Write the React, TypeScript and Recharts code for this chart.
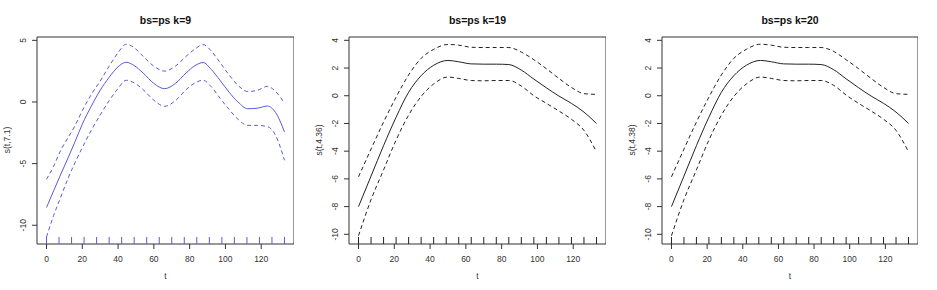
import { ComposedChart, Line, Scatter, XAxis, YAxis, ReferenceArea } from 'recharts';

// t grid used for the smooth curves
const T1 = [0, 4, 8, 12, 16, 20, 25, 30, 35, 40, 44.5, 49, 54, 60, 66, 72, 78, 83, 87.5, 92, 97, 102, 107, 112.5, 118, 123.5, 128, 133];
const FIT1 = [-8.55, -7.2, -5.85, -4.55, -3.2, -1.8, -0.35, 0.95, 2.0, 2.85, 3.22, 2.95, 2.35, 1.5, 1.08, 1.5, 2.35, 2.95, 3.2, 2.65, 1.75, 0.8, 0.0, -0.55, -0.5, -0.33, -0.85, -2.43];
const UPPER1 = [-6.27, -5.2, -3.9, -2.9, -1.9, -0.7, 0.6, 1.7, 2.9, 4.0, 4.68, 4.4, 3.7, 2.9, 2.5, 2.9, 3.7, 4.3, 4.65, 4.15, 3.2, 2.2, 1.35, 0.85, 0.95, 1.27, 0.85, -0.1];
const LOWER1 = [-10.95, -9.2, -7.7, -6.2, -4.9, -3.7, -2.3, -1.05, 0.1, 1.1, 1.76, 1.55, 1.0, 0.14, -0.35, 0.1, 1.0, 1.55, 1.76, 1.25, 0.3, -0.6, -1.4, -1.9, -1.9, -2.0, -2.7, -4.73];

const T2 = [0, 7, 14, 21, 28, 35, 42, 50, 56, 63, 70, 77, 84, 91, 98, 105, 112, 119, 126, 133];
const FIT2 = [-8.0, -5.8, -3.6, -1.55, 0.25, 1.45, 2.2, 2.55, 2.45, 2.3, 2.28, 2.28, 2.25, 1.85, 1.2, 0.57, -0.02, -0.55, -1.18, -2.0];
const UPPER2 = [-5.85, -3.85, -1.9, -0.1, 1.5, 2.7, 3.35, 3.7, 3.65, 3.5, 3.48, 3.48, 3.48, 3.15, 2.6, 1.95, 1.25, 0.6, 0.15, 0.1];
const LOWER2 = [-10.1, -7.5, -5.35, -3.2, -1.4, -0.05, 0.85, 1.35, 1.25, 1.1, 1.08, 1.1, 1.1, 0.7, 0.0, -0.55, -1.1, -1.7, -2.5, -4.05];

const FIT3 = [-8.0, -5.8, -3.6, -1.55, 0.25, 1.45, 2.2, 2.55, 2.45, 2.3, 2.28, 2.28, 2.25, 1.88, 1.22, 0.58, -0.02, -0.55, -1.18, -2.0];
const UPPER3 = [-5.85, -3.85, -1.9, -0.1, 1.5, 2.7, 3.35, 3.72, 3.65, 3.5, 3.48, 3.48, 3.48, 3.2, 2.6, 1.95, 1.25, 0.6, 0.15, 0.1];
const LOWER3 = [-10.1, -7.5, -5.35, -3.2, -1.4, -0.05, 0.85, 1.35, 1.25, 1.1, 1.08, 1.1, 1.1, 0.75, 0.05, -0.55, -1.1, -1.7, -2.5, -4.05];

// rug of observed t values
const RUG_T = [0, 7, 14, 21, 28, 35, 42, 49, 56, 63, 70, 77, 84, 91, 98, 105, 112, 119, 126, 133];

const X_TICKS = [0, 20, 40, 60, 80, 100, 120];
const Y_TICKS1 = [-10, -5, 0, 5];
const Y_TICKS2 = [-10, -8, -6, -4, -2, 0, 2, 4];

const TITLES = ['bs=ps k=9', 'bs=ps k=19', 'bs=ps k=20'];
const Y_LABELS = ['s(t,7.1)', 's(t,4.36)', 's(t,4.38)'];

const FONT = '"Liberation Sans", Arial, sans-serif';
const X_DOMAIN: [number, number] = [-5.32, 138.32];

function toRows(t: number[], fit: number[], upper: number[], lower: number[]) {
  return t.map((v, i) => ({ t: v, fit: fit[i], upper: upper[i], lower: lower[i] }));
}

const YTick = (props: any) => {
  const { x, y, payload } = props;
  return (
    <text
      x={x}
      y={y}
      transform={`rotate(-90 ${x} ${y})`}
      textAnchor="middle"
      fontSize={8.5}
      fontFamily={FONT}
      fill="#333"
    >
      {payload.value}
    </text>
  );
};

interface PanelProps {
  left: number;
  width: number;
  yAxisWidth: number;
  rows: { t: number; fit: number; upper: number; lower: number }[];
  yDomain: [number, number];
  yTicks: number[];
  color: string;
  title: string;
  yLabel: string;
}

function Panel({ left, width, yAxisWidth, rows, yDomain, yTicks, color, title, yLabel }: PanelProps) {
  const rug = RUG_T.map(t => ({ t, rug: yDomain[0] }));
  const plotLeft = left + yAxisWidth;
  const plotCenter = plotLeft + (width - yAxisWidth) / 2;
  return (
    <>
      <div style={{ position: 'absolute', left: plotCenter, top: 20, transform: 'translate(-50%, -50%)', fontFamily: FONT, fontWeight: 'bold', fontSize: 10.5, color: '#111', whiteSpace: 'nowrap' }}>
        {title}
      </div>
      <div style={{ position: 'absolute', left: plotCenter, top: 276, transform: 'translate(-50%, -50%)', fontFamily: FONT, fontSize: 8.5, color: '#333' }}>
        t
      </div>
      <div style={{ position: 'absolute', left: plotLeft - 30, top: 140, transform: 'translate(-50%, -50%) rotate(-90deg)', fontFamily: FONT, fontSize: 8.5, color: '#333', whiteSpace: 'nowrap' }}>
        {yLabel}
      </div>
      <div style={{ position: 'absolute', left, top: 0 }}>
        <ComposedChart width={width} height={290} data={rows} margin={{ top: 37, right: 0, bottom: 0, left: 0 }}>
          <XAxis
            dataKey="t"
            type="number"
            domain={X_DOMAIN}
            ticks={X_TICKS}
            allowDataOverflow
            axisLine={false}
            tickLine={{ stroke: '#333' }}
            tickSize={5}
            tickMargin={7}
            height={46}
            tick={{ fontSize: 8.5, fontFamily: FONT, fill: '#333' }}
          />
          <YAxis
            type="number"
            domain={yDomain}
            ticks={yTicks}
            allowDataOverflow
            axisLine={false}
            tickLine={{ stroke: '#333' }}
            tickSize={5}
            tickMargin={6}
            width={yAxisWidth}
            tick={<YTick />}
          />
          <ReferenceArea x1={X_DOMAIN[0]} x2={X_DOMAIN[1]} y1={yDomain[0]} y2={yDomain[1]} fill="none" stroke="#333" strokeWidth={1} ifOverflow="visible" />
          <Line dataKey="fit" type="monotone" stroke={color} strokeWidth={1} dot={false} isAnimationActive={false} />
          <Line dataKey="upper" type="monotone" stroke={color} strokeWidth={1} strokeDasharray="4 3" dot={false} isAnimationActive={false} />
          <Line dataKey="lower" type="monotone" stroke={color} strokeWidth={1} strokeDasharray="4 3" dot={false} isAnimationActive={false} />
          <Scatter
            data={rug}
            dataKey="rug"
            isAnimationActive={false}
            shape={(p: any) => <line x1={p.cx} x2={p.cx} y1={p.cy} y2={p.cy - 7} stroke={color} strokeWidth={1} />}
          />
        </ComposedChart>
      </div>
    </>
  );
}

export default function App() {
  return (
    <div style={{ position: 'absolute', left: 0, top: 0, width: 937, height: 290, background: '#fff', overflow: 'hidden' }}>
      <Panel left={0} width={294} yAxisWidth={37} rows={toRows(T1, FIT1, UPPER1, LOWER1)} yDomain={[-11.52, 5.27]} yTicks={Y_TICKS1} color="#5a5ad8" title={TITLES[0]} yLabel={Y_LABELS[0]} />
      <Panel left={310} width={296} yAxisWidth={39} rows={toRows(T2, FIT2, UPPER2, LOWER2)} yDomain={[-10.7, 4.24]} yTicks={Y_TICKS2} color="#222" title={TITLES[1]} yLabel={Y_LABELS[1]} />
      <Panel left={620} width={298} yAxisWidth={42} rows={toRows(T2, FIT3, UPPER3, LOWER3)} yDomain={[-10.7, 4.24]} yTicks={Y_TICKS2} color="#222" title={TITLES[2]} yLabel={Y_LABELS[2]} />
    </div>
  );
}
